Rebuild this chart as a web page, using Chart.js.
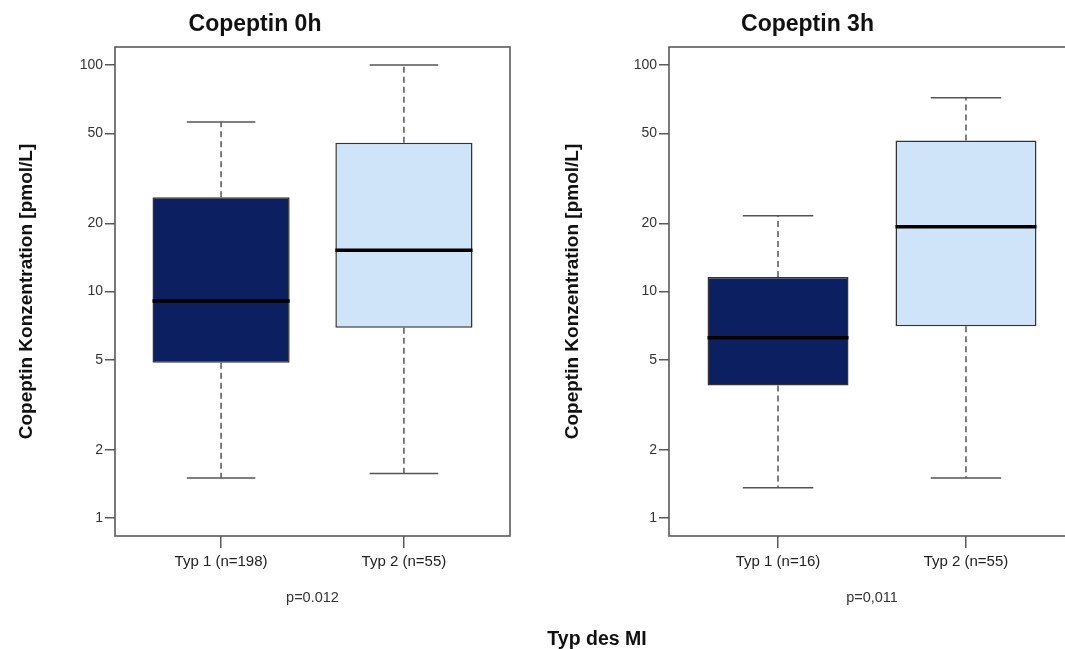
<!DOCTYPE html>
<html>
<head>
<meta charset="utf-8">
<script src="https://cdn.jsdelivr.net/npm/chart.js@4/dist/chart.umd.min.js"></script>
<style>
  html, body { margin: 0; padding: 0; background: #fff; overflow: hidden; }
  #stage { position: relative; width: 1065px; height: 649px; overflow: hidden; }
  .panel { position: absolute; top: 0; height: 649px; }
  #p0 { left: 0; width: 540px; }
  #p3 { left: 540px; width: 560px; }
  #xlab { position: absolute; left: 497px; width: 200px; top: 627px; text-align: center;
          font: bold 19.5px "Liberation Sans", Arial, sans-serif; color: #111; line-height: 22px; }
</style>
</head>
<body>
<div id="stage">
  <div class="panel" id="p0"><canvas id="c0"></canvas></div>
  <div class="panel" id="p3"><canvas id="c3"></canvas></div>
  <div id="xlab">Typ des MI</div>
</div>
<script>
// Copeptin (pmol/L) by MI type, box plot statistics
const cats0 = ['Typ 1 (n=198)', 'Typ 2 (n=55)'];
const low0  = [1.50, 1.57];
const q1_0  = [4.85, 6.92];
const med0  = [9.08, 15.2];
const q3_0  = [26.1, 45.4];
const high0 = [56.0, 100];

const cats3 = ['Typ 1 (n=16)', 'Typ 2 (n=55)'];
const low3  = [1.36, 1.50];
const q1_3  = [3.84, 7.02];
const med3  = [6.25, 19.3];
const q3_3  = [11.6, 46.5];
const high3 = [21.6, 71.7];

const yTicks = [1, 2, 5, 10, 20, 50, 100];
const boxColors = ['#0c2061', '#cfe3f9'];

Chart.defaults.font.family = '"Liberation Sans", Arial, sans-serif';

// whiskers, caps and median lines drawn on top of the floating bars
const boxExtras = {
  id: 'boxExtras',
  afterDatasetsDraw(chart, args, opts) {
    const ctx = chart.ctx;
    const y = chart.scales.y;
    const meta = chart.getDatasetMeta(0);
    meta.data.forEach((el, i) => {
      const cx = el.x, w = el.width;
      const pLow = y.getPixelForValue(opts.low[i]);
      const pQ1 = y.getPixelForValue(opts.q1[i]);
      const pQ3 = y.getPixelForValue(opts.q3[i]);
      const pHigh = y.getPixelForValue(opts.high[i]);
      const pMed = y.getPixelForValue(opts.med[i]);
      ctx.save();
      ctx.strokeStyle = '#555';
      ctx.lineWidth = 1.5;
      ctx.setLineDash([6, 4]);
      ctx.beginPath();
      ctx.moveTo(cx, pQ3); ctx.lineTo(cx, pHigh);
      ctx.moveTo(cx, pQ1); ctx.lineTo(cx, pLow);
      ctx.stroke();
      ctx.setLineDash([]);
      ctx.beginPath();
      ctx.moveTo(cx - w / 4, pHigh); ctx.lineTo(cx + w / 4, pHigh);
      ctx.moveTo(cx - w / 4, pLow); ctx.lineTo(cx + w / 4, pLow);
      ctx.stroke();
      ctx.strokeStyle = '#000';
      ctx.lineWidth = 3.5;
      ctx.beginPath();
      ctx.moveTo(cx - w / 2, pMed); ctx.lineTo(cx + w / 2, pMed);
      ctx.stroke();
      ctx.restore();
    });
  }
};

// plot frame around the chart area
const frame = {
  id: 'frame',
  afterDraw(chart) {
    const a = chart.chartArea, ctx = chart.ctx;
    ctx.save();
    ctx.strokeStyle = '#5a5a5a';
    ctx.lineWidth = 1.6;
    ctx.strokeRect(a.left, a.top, a.right - a.left, a.bottom - a.top);
    ctx.restore();
  }
};

function makePanel(canvasId, title, cats, low, q1, med, q3, high, pText, yWidth, yTitlePad, padRight) {
  return new Chart(document.getElementById(canvasId), {
    type: 'bar',
    data: {
      datasets: [{
        data: cats.map((c, i) => ({ x: i + 1, y: [q1[i], q3[i]] })),
        backgroundColor: boxColors,
        borderColor: '#333',
        borderWidth: 1.5,
        borderSkipped: false,
        categoryPercentage: 1,
        barPercentage: 0.75
      }]
    },
    options: {
      responsive: true,
      maintainAspectRatio: false,
      animation: false,
      layout: { padding: { left: 0, right: padRight, top: 0, bottom: 0 } },
      plugins: {
        legend: { display: false },
        tooltip: { enabled: false },
        title: {
          display: true,
          text: title,
          color: '#111',
          font: { size: 23, weight: 'bold' },
          padding: { top: 10.4, bottom: 9 }
        },
        boxExtras: { low, q1, med, q3, high }
      },
      scales: {
        x: {
          type: 'linear',
          offset: false,
          min: 0.42,
          max: 2.58,
          afterBuildTicks: s => { s.ticks = cats.map((c, i) => ({ value: i + 1 })); },
          afterFit: s => { s.height = 113; },
          ticks: {
            callback: v => cats[v - 1],
            color: '#222',
            font: { size: 15 },
            padding: 5,
            maxRotation: 0,
            autoSkip: false
          },
          grid: {
            display: true, offset: false, drawOnChartArea: false, drawTicks: true,
            tickLength: 12, color: '#5a5a5a', lineWidth: 1.5
          },
          border: { display: false },
          title: {
            display: true, text: pText, color: '#333',
            font: { size: 14.5 }, padding: { top: 0, bottom: 42.3 }
          }
        },
        y: {
          type: 'logarithmic',
          min: Math.pow(10, -0.08),
          max: Math.pow(10, 2.08),
          afterBuildTicks: s => { s.ticks = yTicks.map(v => ({ value: v })); },
          afterFit: s => { s.width = yWidth; },
          ticks: {
            callback: v => String(v),
            color: '#333',
            font: { size: 14 },
            padding: 2,
            autoSkip: false
          },
          grid: {
            display: true, drawOnChartArea: false, drawTicks: true,
            tickLength: 10, color: '#5a5a5a', lineWidth: 1.5
          },
          border: { display: false },
          title: {
            display: true, text: 'Copeptin Konzentration [pmol/L]', color: '#111',
            font: { size: 19, weight: 'bold' }, padding: { top: yTitlePad, bottom: 0 }
          }
        }
      }
    },
    plugins: [boxExtras, frame]
  });
}

makePanel('c0', 'Copeptin 0h', cats0, low0, q1_0, med0, q3_0, high0, 'p=0.012', 115, 15.6, 30);
makePanel('c3', 'Copeptin 3h', cats3, low3, q1_3, med3, q3_3, high3, 'p=0,011', 129, 21.6, 25);
</script>
</body>
</html>
